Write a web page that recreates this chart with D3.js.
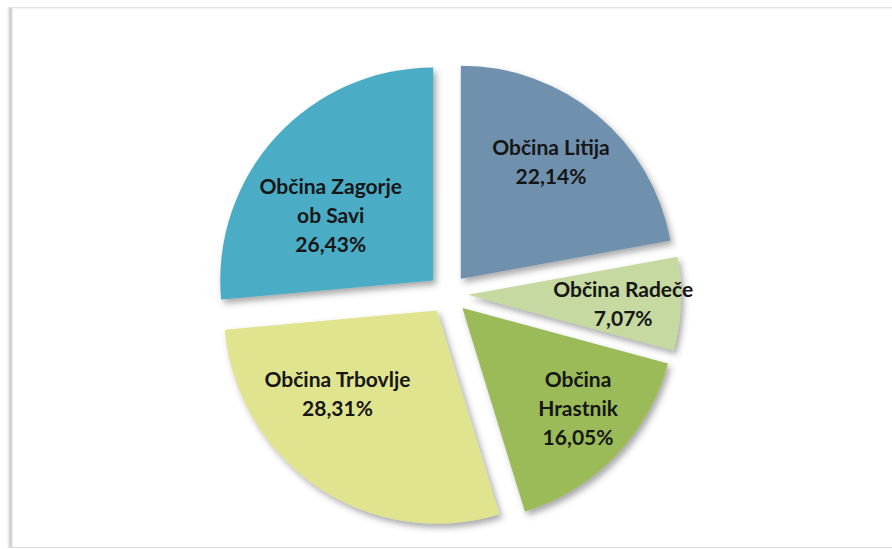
<!DOCTYPE html>
<html lang="sl">
<head>
<meta charset="UTF-8">
<script src="https://d3js.org/d3.v7.min.js"></script>
<style>
  html, body { margin: 0; padding: 0; background: #fff; }
  svg { display: block; }
  .lbl { font-family: Lato, "Open Sans", sans-serif; font-weight: bold; font-size: 21px; fill: #161616; }
</style>
</head>
<body>
<div id="chart"></div>
<script>
// podatki (v smeri urinega kazalca od 12. ure)
const obcine = ["Občina Litija", "Občina Radeče", "Občina Hrastnik", "Občina Trbovlje", "Občina Zagorje ob Savi"];
const deleži = [22.14, 7.07, 16.05, 28.31, 26.43];
// vrstice napisov
const napisi = [
  ["Občina Litija"],
  ["Občina Radeče"],
  ["Občina", "Hrastnik"],
  ["Občina Trbovlje"],
  ["Občina Zagorje", "ob Savi"]
];
const barve = ["#6f91ae", "#c5d9a0", "#9bbb59", "#e0e48f", "#4bacc6"];

// postavitev napisov (delež polmera, zamik kota v stopinjah)
const labelR = [0.69, 0.73, 0.72, 0.61, 0.57];
const labelShift = [-2, 1, -3, 16, -10];

const width = 892, height = 549;
const cx = 448, cy = 294, r = 213, explode = 20;

const svg = d3.select("#chart").append("svg")
  .attr("width", width).attr("height", height);

// okvir
const defs = svg.append("defs");
const grad = defs.append("linearGradient").attr("id", "leftShade");
grad.append("stop").attr("offset", "0%").attr("stop-color", "#ffffff");
grad.append("stop").attr("offset", "60%").attr("stop-color", "#c8c8c8");
grad.append("stop").attr("offset", "100%").attr("stop-color", "#f4f4f4");
svg.append("rect").attr("x", 7).attr("y", 7).attr("width", 6).attr("height", 541).attr("fill", "url(#leftShade)");
svg.append("line").attr("x1", 9).attr("x2", width).attr("y1", 7.5).attr("y2", 7.5).attr("stroke", "#e2e2e2");
svg.append("line").attr("x1", 13).attr("x2", width).attr("y1", 8.5).attr("y2", 8.5).attr("stroke", "#f3f3f3");
svg.append("line").attr("x1", 9).attr("x2", width).attr("y1", 547.5).attr("y2", 547.5).attr("stroke", "#dcdcdc");

const shadow = defs.append("filter").attr("id", "shadow")
  .attr("x", "-20%").attr("y", "-20%").attr("width", "140%").attr("height", "140%");
shadow.append("feDropShadow")
  .attr("dx", 3).attr("dy", 4).attr("stdDeviation", 3)
  .attr("flood-color", "#404040").attr("flood-opacity", 0.45);

const data = obcine.map((o, i) => ({ obcina: o, delez: deleži[i], vrstice: napisi[i], barva: barve[i], i }));

const pie = d3.pie().sort(null).value(d => d.delez);
const arc = d3.arc().innerRadius(0).outerRadius(r);
const arcs = pie(data);

const g = svg.append("g").attr("transform", `translate(${cx},${cy})`);

const slices = g.selectAll("g.slice").data(arcs).enter().append("g")
  .attr("class", "slice")
  .attr("transform", d => {
    const a = (d.startAngle + d.endAngle) / 2;
    return `translate(${explode * Math.sin(a)},${-explode * Math.cos(a)})`;
  });

slices.append("path")
  .attr("d", arc)
  .attr("fill", d => d.data.barva)
  .attr("filter", "url(#shadow)");

const lineH = 29;
slices.each(function(d) {
  const a = (d.startAngle + d.endAngle) / 2 + labelShift[d.data.i] * Math.PI / 180;
  const lr = r * labelR[d.data.i];
  const x = lr * Math.sin(a), y = -lr * Math.cos(a);
  const lines = d.data.vrstice.concat([d.data.delez.toFixed(2).replace(".", ",") + "%"]);
  const t = d3.select(this).append("text")
    .attr("class", "lbl")
    .attr("text-anchor", "middle")
    .attr("transform", `translate(${x},${y - (lines.length - 1) * lineH / 2})`);
  lines.forEach((s, k) => {
    t.append("tspan").attr("x", 0).attr("y", k * lineH).attr("dy", "0.35em").text(s);
  });
});
</script>
</body>
</html>
